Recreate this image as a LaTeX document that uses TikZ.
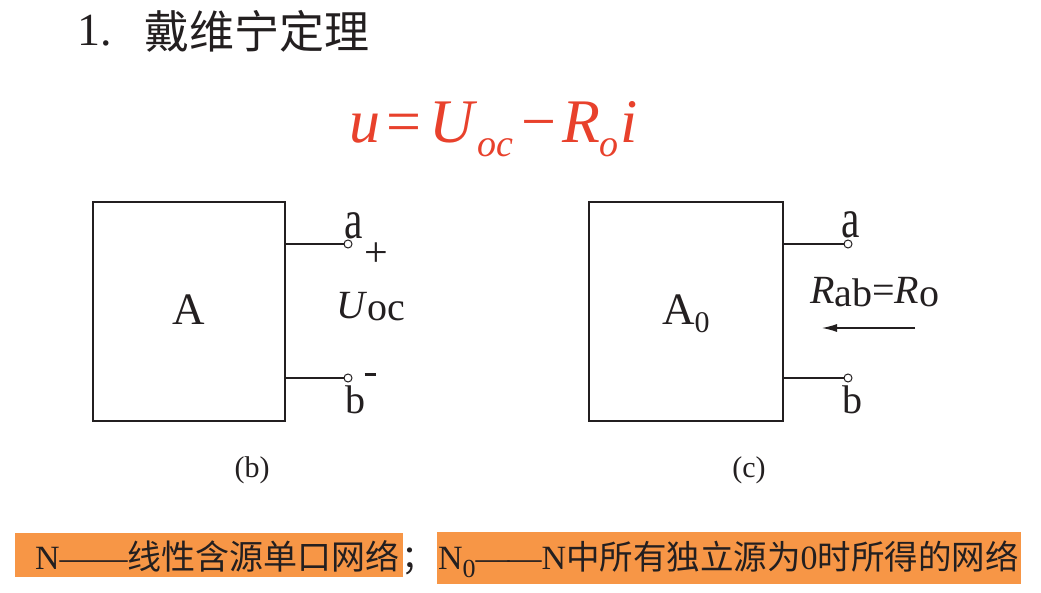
\documentclass[tikz,border=0pt]{standalone}
\usepackage{fontspec}
\usepackage{graphicx}
\setmainfont{Liberation Serif}
\newfontfamily\cjk{Noto Sans CJK SC}
\usetikzlibrary{arrows.meta}
\newcommand\fsz[1]{\fontsize{#1}{#1}\selectfont}
\definecolor{ink}{HTML}{231F20}
\definecolor{eqred}{HTML}{E8412C}
\definecolor{hl}{HTML}{F79646}
\begin{document}
\begin{tikzpicture}[x=1pt,y=-1pt,
 txt/.style={inner sep=0pt, outer sep=0pt, text=ink, anchor=base west},
 blk/.style={draw=ink, line width=1.8pt, minimum width=#1, minimum height=219pt, inner sep=0pt},
 lead/.style={draw=ink, line width=1.1pt},
 term/.style={circle, draw=ink, fill=white, line width=1pt, minimum size=8pt, inner sep=0pt},
 eq/.style={inner sep=0pt, outer sep=0pt, anchor=base west, text=eqred},
 band/.style={fill=hl, draw=none}]
\useasboundingbox (0,0) rectangle (1041,593);
% title
\node[txt, font=\fsz{46}] (t1) at (77,46) {1.};
\node[txt, font=\fsz{45}\cjk] (t2) at (144,49) {戴维宁定理};
% formula
\node[eq, font=\fsz{62}\itshape] (fu) at (349,143) {u};
\node[eq, font=\fsz{62}] (feq) at (386,143) {=};
\node[eq, font=\fsz{62}\itshape] (fU) at (429,143) {U};
\node[eq, font=\fsz{38}\itshape] (foc) at (477,157) {oc};
\node[eq, font=\fsz{62}] (fmin) at (521,143) {−};
\node[eq, font=\fsz{62}\itshape] (fR) at (562,143) {R};
\node[eq, font=\fsz{38}\itshape] (fo) at (599,157) {o};
\node[eq, font=\fsz{62}\itshape] (fi) at (620,143) {i};
% left network
\node[blk=192pt] (boxL) at (189,311.5) {};
\node[term] (ta) at (348,244) {};
\node[term] (tb) at (348,378) {};
\draw[lead] (ta -| boxL.east) -- (ta);
\draw[lead] (tb -| boxL.east) -- (tb);
\node[txt, font=\fsz{45}, anchor=base] (lA) at (189,325) {A};
\node[txt, font=\fsz{46}] (la) at (344,239) {\scalebox{0.9}[1.2]{a}};
\node[txt, font=\fsz{40}] (lb) at (345,413) {b};
\node[txt, font=\fsz{42}, anchor=center] (lplus) at (376,255) {+};
\node[txt, anchor=center] (lminus) at (370,374) {\rule{11pt}{3pt}};
\node[txt, font=\fsz{40}] (lU) at (336,319) {\textit{U}\raisebox{-2pt}{oc}};
\node[txt, font=\fsz{30}, anchor=base] (capb) at (252,477) {(b)};
% right network
\node[blk=194pt] (boxR) at (686,311.5) {};
\node[term] (ra) at (848,244) {};
\node[term] (rb) at (848,378) {};
\draw[lead] (ra -| boxR.east) -- (ra);
\draw[lead] (rb -| boxR.east) -- (rb);
\node[txt, font=\fsz{45}] (lA0) at (662,325) {A\raisebox{-8pt}{\fsz{30}0}};
\node[txt, font=\fsz{46}] (lra) at (841,238) {\scalebox{0.9}[1.2]{a}};
\node[txt, font=\fsz{40}] (lrb) at (842,413) {b};
\node[txt, font=\fsz{40}] (lR) at (810,304) {\textit{R}\raisebox{-3pt}{ab}=\textit{R}\raisebox{-3pt}{o}};
\coordinate (arS) at (915,328);
\coordinate (arE) at (822,328);
\draw[line width=1.1pt, draw=ink, -{Latex[length=15pt,width=8pt]}] (arS) -- (arE);
\node[txt, font=\fsz{30}, anchor=base] (capc) at (749,477) {(c)};
% bottom notes
\fill[band] (15,533) rectangle (403,577);
\fill[band] (437,532) rectangle (1021,584);
\node[txt, font=\fsz{34}] (n1) at (35,569) {N——{\cjk 线性含源单口网络}};
\node[txt, font=\fsz{34}\cjk] (semi) at (401,569) {；};
\node[txt, font=\fsz{34}] (n2) at (438,569) {N\raisebox{-8pt}{\fsz{26}0}—{\kern-2pt}—N{\fsz{33.5}\cjk 中所有独立源为}0{\fsz{33.5}\cjk 时所得的网络}};
\end{tikzpicture}
\end{document}
